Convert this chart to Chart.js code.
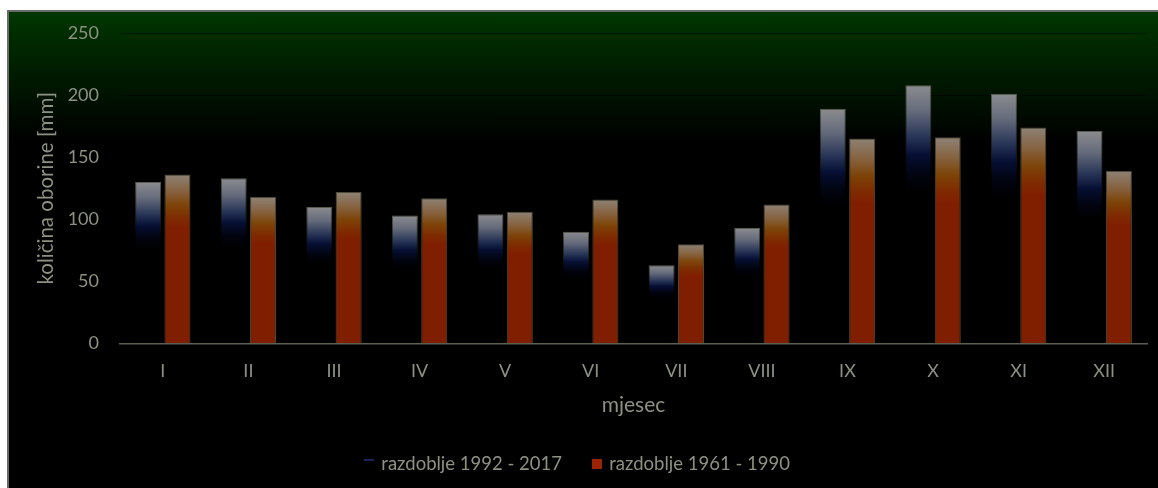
<!DOCTYPE html>
<html>
<head>
<meta charset="utf-8">
<script src="https://cdn.jsdelivr.net/npm/chart.js@4/dist/chart.umd.min.js"></script>
<style>
  html, body { margin: 0; padding: 0; background: #fff; }
  #panel {
    position: absolute; left: 7px; top: 10px; width: 1149px; height: 476px;
    border-left: 2px solid #6a6a6a; border-top: 2px solid #6a6a6a;
    background: linear-gradient(to bottom, #003600 0px, #001c00 60px, #000 128px);
  }
  #wrap { position: relative; width: 1149px; height: 476px; }
</style>
</head>
<body>
<div id="panel"><div id="wrap"><canvas id="rainChart"></canvas></div></div>
<script>
// monthly precipitation (mm)
const months = ['I', 'II', 'III', 'IV', 'V', 'VI', 'VII', 'VIII', 'IX', 'X', 'XI', 'XII'];
const rain1992 = [130, 133, 110, 103, 104, 90, 63, 93, 189, 208, 201, 171];
const rain1961 = [136, 118, 122, 117, 106, 116, 80, 112, 165, 166, 174, 139];
const yTicks = [0, 50, 100, 150, 200, 250];

const textColor = '#8c9282';
const fontFamily = 'Lato, "Open Sans", sans-serif';

const blueStops = [[0, '#8c8c8f'], [0.1, '#656b7b'], [0.2, '#283557'], [0.27, '#060f34'], [0.35, '#01030e'], [0.42, '#000'], [1, '#000']];
const redStops = [[0, '#8d8275'], [0.1, '#86623f'], [0.18, '#7d4408'], [0.26, '#7f2a00'], [0.32, '#801e00'], [1, '#801e00']];
const blueEdge = [[0, '#5a5e4e'], [0.25, 'rgba(60,62,50,0.4)'], [0.38, 'rgba(0,0,0,0)'], [1, 'rgba(0,0,0,0)']];

// gradient spanning each bar from its top down to zero
function barGradient(stops) {
  return (ctx) => {
    const chart = ctx.chart;
    if (!chart.chartArea || ctx.type !== 'data') return stops[stops.length - 1][1];
    const y = chart.scales.y;
    const top = y.getPixelForValue(ctx.raw);
    const base = y.getPixelForValue(0);
    if (base - top < 1) return stops[0][1];
    const g = chart.ctx.createLinearGradient(0, top, 0, base);
    stops.forEach(([o, c]) => g.addColorStop(o, c));
    return g;
  };
}

function marker(draw) {
  const c = document.createElement('canvas');
  c.width = 10; c.height = 10;
  draw(c.getContext('2d'));
  return c;
}
const blueMarker = marker(g => { g.fillStyle = '#1c2a66'; g.fillRect(0, 0, 10, 2); });
const redMarker = marker(g => { g.fillStyle = '#9a2600'; g.fillRect(0, 0, 10, 10); });

new Chart(document.getElementById('rainChart'), {
  type: 'bar',
  data: {
    labels: months,
    datasets: [
      { label: 'razdoblje 1992 - 2017', data: rain1992, backgroundColor: barGradient(blueStops), borderColor: barGradient(blueEdge), borderWidth: 1, categoryPercentage: 0.686, barPercentage: 0.886 },
      { label: 'razdoblje 1961 - 1990', data: rain1961, backgroundColor: barGradient(redStops), borderColor: '#4f4a35', borderWidth: 1, categoryPercentage: 0.686, barPercentage: 0.886 }
    ]
  },
  options: {
    responsive: true,
    maintainAspectRatio: false,
    animation: false,
    layout: { padding: { top: 21, right: 11, bottom: 5, left: 0 } },
    scales: {
      x: {
        grid: { display: false, drawTicks: false },
        border: { display: true, color: '#5a6150', width: 1.5 },
        ticks: { color: textColor, font: { family: fontFamily, size: 18 }, padding: 17 },
        title: { display: true, text: 'mjesec', color: textColor, font: { family: fontFamily, size: 21 }, padding: { top: 0, bottom: 5 } },
        afterFit: (s) => { s.height = 79; }
      },
      y: {
        min: 0, max: 250,
        afterBuildTicks: (s) => { s.ticks = yTicks.map(v => ({ value: v })); },
        grid: { color: 'rgba(0,0,0,0.55)', drawTicks: false },
        border: { display: false },
        ticks: { color: textColor, font: { family: fontFamily, size: 18 }, padding: 21 },
        title: { display: true, text: 'količina oborine [mm]', color: textColor, font: { family: fontFamily, size: 20.5 }, padding: { top: 25, bottom: 0 } },
        afterFit: (s) => { s.width = 111; s.paddingTop = 0; s.paddingBottom = 0; }
      }
    },
    plugins: {
      tooltip: { enabled: false },
      legend: {
        position: 'bottom',
        labels: {
          color: textColor,
          font: { family: fontFamily, size: 18.5 },
          usePointStyle: true,
          boxWidth: 6, boxHeight: 10,
          padding: 32,
          generateLabels: (chart) => chart.data.datasets.map((ds, i) => ({
            text: ds.label,
            pointStyle: i === 0 ? blueMarker : redMarker,
            fillStyle: 'transparent', strokeStyle: 'transparent', lineWidth: 0,
            fontColor: textColor,
            datasetIndex: i
          }))
        }
      }
    }
  }
});
</script>
</body>
</html>
